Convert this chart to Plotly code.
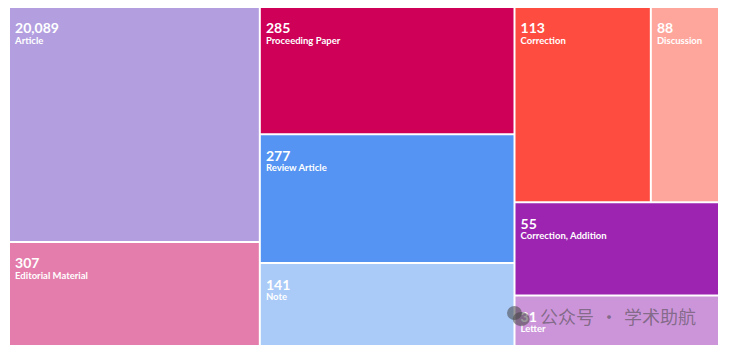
import plotly.graph_objects as go

# Document types and counts (as labelled in the chart)
doc_types = ["Article", "Editorial Material", "Proceeding Paper", "Review Article", "Note",
             "Correction", "Discussion", "Correction, Addition", "Letter"]
doc_counts = [20089, 307, 285, 277, 141, 113, 88, 55, 31]
# relative tile areas as they appear in the picture (hundreds of px^2)
tile_area = [589, 261, 324, 328, 211, 266, 133, 191, 103]
# grouping of tiles into columns / rows
tile_group = ["c1", "c1", "c2", "c2", "c2", "c3top", "c3top", "c3", "c3"]
tile_colors = ["#B39FE0", "#E47DAB", "#CF0057", "#5594F2", "#AACAF8",
               "#FF4C40", "#FFA69C", "#9C24B0", "#CC95D9"]

group_ids = ["root", "c1", "c2", "c3", "c3top"]
group_parents = ["", "root", "root", "root", "c3"]

ids = group_ids + [f"leaf{i}" for i in range(len(doc_types))]
parents = group_parents + tile_group
labels = [""] * len(group_ids) + doc_types
values = [0] * len(group_ids) + tile_area
customdata = [""] * len(group_ids) + [f"{v:,}" for v in doc_counts]
colors = ["#ffffff"] * len(group_ids) + tile_colors
tmpl = [""] * len(group_ids) + [
    "<span style='font-size:12px'>\u00a0</span><br>"
    " <span style='font-size:14px'><b>%{customdata}</b></span><br>"
    " <span style='font-size:9.5px'><b>%{label}</b></span>"
] * len(doc_types)

fig = go.Figure(go.Treemap(
    ids=ids, parents=parents, labels=labels, values=values,
    customdata=customdata, branchvalues="remainder",
    texttemplate=tmpl, textposition="top left",
    textfont=dict(family="Lato", size=8, color="white"),
    marker=dict(colors=colors, line=dict(width=0), pad=dict(t=0, l=0, r=0, b=0)),
    tiling=dict(packing="slice-dice", pad=2),
    pathbar=dict(visible=False),
    hoverinfo="skip", sort=False,
))

# watermark
wm = "rgba(70,70,70,0.55)"
fig.add_annotation(x=0.746, y=0.085, xref="paper", yref="paper", xanchor="left", yanchor="middle",
                   text="公众号\u2004·\u2004学术助航", showarrow=False,
                   font=dict(family="Noto Sans CJK SC", size=18, color=wm))
fig.add_shape(type="circle", xref="paper", yref="paper", x0=0.702, x1=0.723, y0=0.074, y1=0.116,
              line=dict(width=0), fillcolor=wm)
fig.add_shape(type="circle", xref="paper", yref="paper", x0=0.710, x1=0.734, y0=0.056, y1=0.098,
              line=dict(width=0), fillcolor=wm)
fig.update_layout(
    width=733, height=356,
    margin=dict(l=2, r=23, t=0, b=19),
    paper_bgcolor="white",
    showlegend=False,
)
fig.write_html("out.html")
